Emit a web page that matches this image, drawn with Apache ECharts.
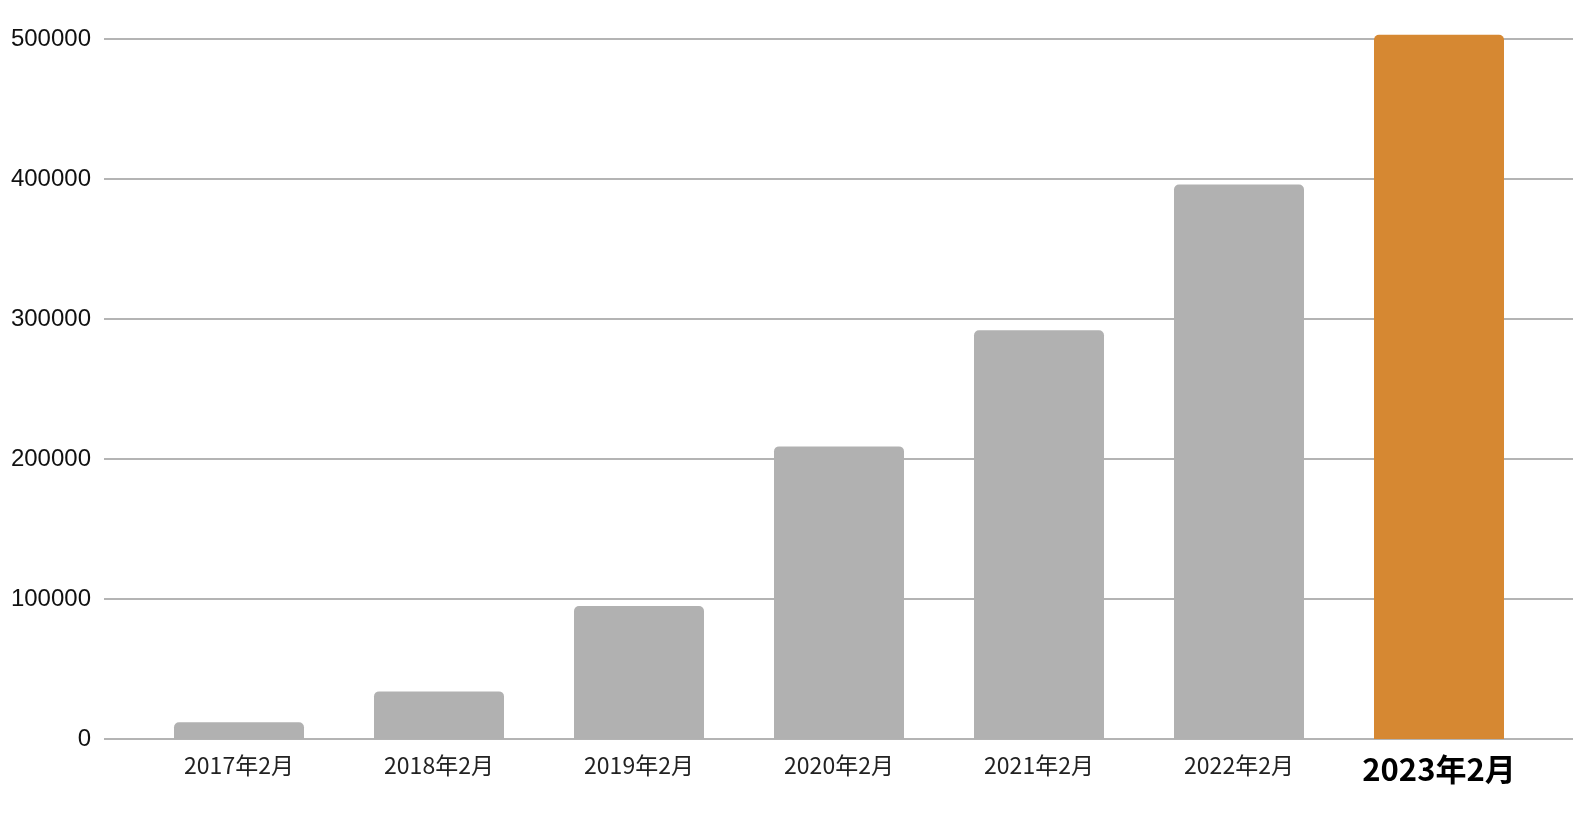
<!DOCTYPE html>
<html><head><meta charset="utf-8">
<script src="https://cdn.jsdelivr.net/npm/echarts@6/dist/echarts.min.js"></script>
<style>html,body{margin:0;padding:0;background:#fff}#c{width:1592px;height:820px}</style>
</head><body><div id="c"></div>
<script>
const categories = ['2017年2月','2018年2月','2019年2月','2020年2月','2021年2月','2022年2月','2023年2月'];
const values = [12000, 34000, 95000, 209000, 292000, 396000, 503000];
const highlightIndex = 6;
const yTicks = { min: 0, max: 500000, interval: 100000 };

const chart = echarts.init(document.getElementById('c'));
chart.setOption({
  animation: false,
  grid: [
    { left: 104, right: 19, top: 39, bottom: 820 - 739 },
    { left: 139, right: 53, top: 39, bottom: 820 - 739 }
  ],
  xAxis: [
    { type: 'category', gridIndex: 0, data: categories, show: false },
    { type: 'category', gridIndex: 1,
      data: categories.map((c, i) => i === highlightIndex
        ? { value: c, textStyle: { fontSize: 31, fontWeight: 'bold', color: '#000' } }
        : c),
      axisLine: { show: false }, axisTick: { show: false },
      axisLabel: { fontFamily: 'Noto Sans CJK JP', fontSize: 23, color: '#222', margin: 15 }
    }
  ],
  yAxis: [
    { type: 'value', gridIndex: 0, min: yTicks.min, max: yTicks.max, interval: yTicks.interval,
      axisLine: { show: false }, axisTick: { show: false },
      axisLabel: { fontFamily: 'Liberation Sans', fontSize: 24, color: '#111', margin: 13,
        formatter: v => String(v) },
      splitLine: { lineStyle: { color: '#b4b4b4', width: 2 } }
    },
    { type: 'value', gridIndex: 1, min: yTicks.min, max: yTicks.max, interval: yTicks.interval, show: false }
  ],
  series: [{
    type: 'bar', xAxisIndex: 1, yAxisIndex: 1, barWidth: '65%', clip: false,
    data: values.map((v, i) => ({ value: v, itemStyle: {
      color: i === highlightIndex ? '#d68832' : '#b1b1b1', borderRadius: [5, 5, 0, 0] } }))
  }]
});
</script></body></html>
